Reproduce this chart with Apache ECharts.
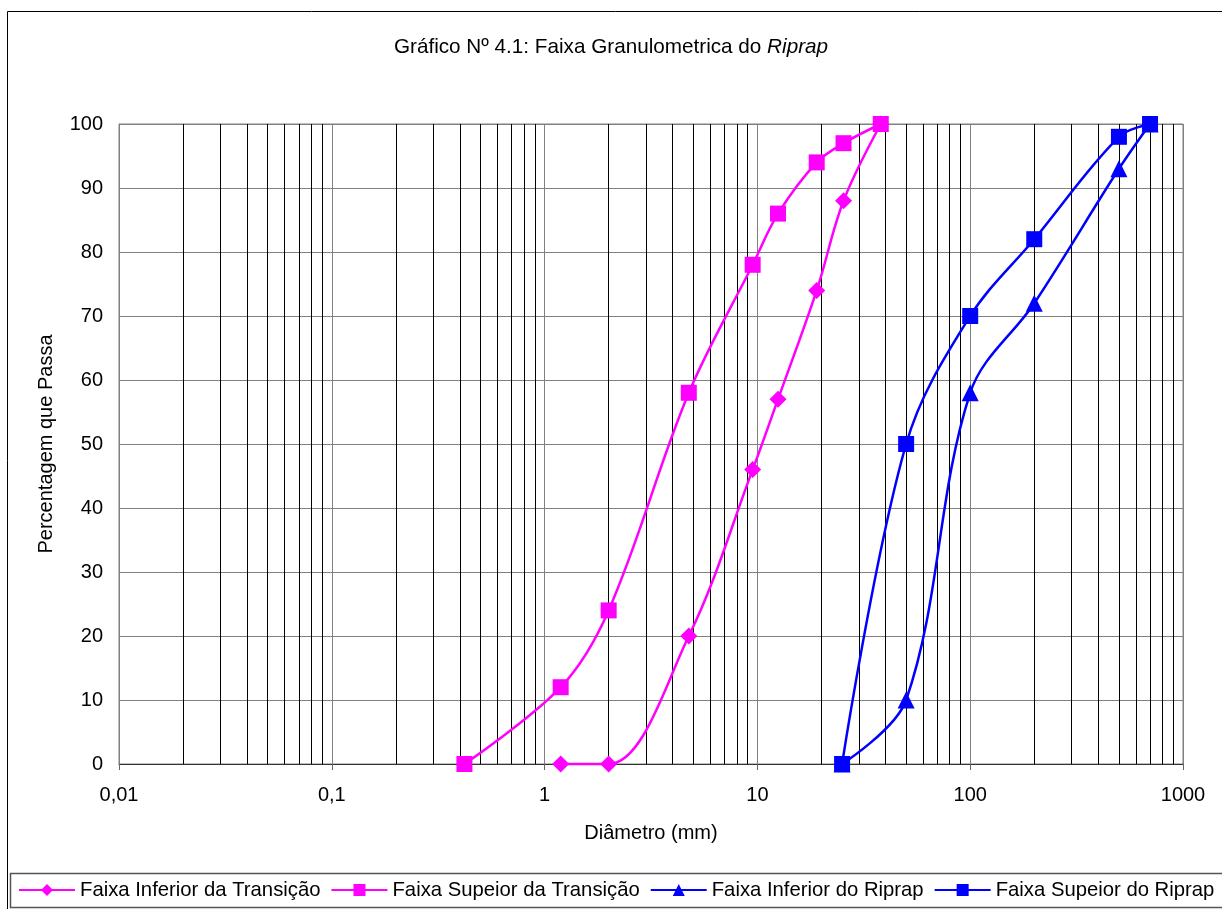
<!DOCTYPE html>
<html>
<head>
<meta charset="utf-8">
<script src="https://cdn.jsdelivr.net/npm/echarts@6/dist/echarts.min.js"></script>
<style>
  html, body { margin: 0; padding: 0; background: #fff; }
  #chart { width: 1222px; height: 909px; }
</style>
</head>
<body>
<div id="chart"></div>
<script>
// Sieve diameters (mm) and percentage passing for each band
const transInfDiam = [1.19, 2.0, 4.76, 9.5, 12.5, 19, 25.4, 38];
const transInfPass = [0, 0, 20, 46, 57, 74, 88, 100];

const transSupDiam = [0.42, 1.19, 2.0, 4.76, 9.5, 12.5, 19, 25.4, 38];
const transSupPass = [0, 12, 24, 58, 78, 86, 94, 97, 100];

const ripInfDiam = [25, 50, 100, 200, 500, 700];
const ripInfPass = [0, 10, 58, 72, 93, 100];

const ripSupDiam = [25, 50, 100, 200, 500, 700];
const ripSupPass = [0, 50, 70, 82, 98, 100];

const seriesNames = [
  'Faixa Inferior da Transição',
  'Faixa Supeior da Transição',
  'Faixa Inferior do Riprap',
  'Faixa Supeior do Riprap'
];

// Decade tick labels of the log axis (0.01 ... 1000)
const xTickLabels = ['0,01', '0,1', '1', '10', '100', '1000'];

// Intermediate log-paper lines (2..9 within each decade)
const minorMultipliers = [2, 3, 4, 5, 6, 7, 8, 9];
const minorDecades = [0.01, 0.1, 1, 10, 100];

const FONT = '"Liberation Sans", Arial, sans-serif';
const MAGENTA = '#FF00FF';
const BLUE = '#0000FF';

const pairs = (xs, ys) => xs.map((x, i) => [x, ys[i]]);

const minorLines = [];
minorDecades.forEach(d => minorMultipliers.forEach(m => {
  minorLines.push({ xAxis: +(d * m).toPrecision(3) });
}));

const lineSeries = (name, xs, ys, color, symbol, size) => ({
  name: name,
  type: 'line',
  data: pairs(xs, ys),
  smooth: 0.35,
  clip: false,
  symbol: symbol,
  symbolSize: size,
  color: color,
  lineStyle: { color: color, width: 2.5 },
  itemStyle: { color: color },
  z: 5
});

const chart = echarts.init(document.getElementById('chart'), null, { renderer: 'canvas' });

chart.setOption({
  animation: false,
  backgroundColor: '#fff',
  textStyle: { fontFamily: FONT },
  title: {
    text: '{a|Gráfico Nº 4.1: Faixa Granulometrica do }{b|Riprap}',
    left: 'center',
    top: 32,
    textStyle: {
      rich: {
        a: { fontFamily: FONT, fontSize: 20.7, fontWeight: 'normal', color: '#000' },
        b: { fontFamily: FONT, fontSize: 20.7, fontWeight: 'normal', color: '#000', fontStyle: 'italic' }
      }
    }
  },
  graphic: [
    {
      type: 'rect',
      shape: { x: 7.5, y: 11.5, width: 1300, height: 1000 },
      style: { fill: 'none', stroke: '#000', lineWidth: 1 },
      silent: true, z: -10
    },
    {
      type: 'rect',
      shape: { x: 10.5, y: 873.5, width: 1300, height: 34 },
      style: { fill: 'none', stroke: '#555', lineWidth: 1.5 },
      silent: true, z: -10
    }
  ],
  legend: {
    data: seriesNames,
    left: 18,
    top: 880,
    padding: 0,
    width: 1204,
    itemWidth: 56,
    itemHeight: 15,
    itemGap: 10,
    textStyle: { fontFamily: FONT, fontSize: 20.3, color: '#000' }
  },
  grid: {
    left: 119,
    top: 124,
    width: 1064,
    height: 640,
    show: true,
    borderColor: '#808080',
    borderWidth: 1,
    containLabel: false
  },
  xAxis: {
    type: 'log',
    logBase: 10,
    min: 0.01,
    max: 1000,
    name: 'Diâmetro (mm)',
    nameLocation: 'middle',
    nameGap: 59,
    nameTextStyle: { fontFamily: FONT, fontSize: 20, color: '#000' },
    axisLine: { onZero: false, lineStyle: { color: '#333', width: 1 } },
    axisTick: { show: true, inside: false, length: 6, lineStyle: { color: '#666' } },
    axisLabel: {
      margin: 21,
      fontFamily: FONT, fontSize: 20, color: '#000',
      formatter: v => {
        const i = Math.round(Math.log10(v)) + 2;
        return xTickLabels[i] !== undefined ? xTickLabels[i] : '';
      }
    },
    splitLine: { show: true, lineStyle: { color: '#808080', width: 1 } }
  },
  yAxis: {
    type: 'value',
    min: 0,
    max: 100,
    interval: 10,
    name: 'Percentagem que Passa',
    nameLocation: 'middle',
    nameGap: 63,
    nameRotate: 90,
    nameTextStyle: { fontFamily: FONT, fontSize: 20, color: '#000' },
    axisLine: { show: true, lineStyle: { color: '#808080' } },
    axisTick: { show: false },
    axisLabel: { margin: 16, fontFamily: FONT, fontSize: 20, color: '#000' },
    splitLine: { show: true, lineStyle: { color: '#808080', width: 1 } }
  },
  series: [
    {
      name: 'minor-grid',
      type: 'line',
      data: [],
      silent: true,
      z: 1,
      markLine: {
        silent: true,
        symbol: 'none',
        label: { show: false },
        animation: false,
        lineStyle: { color: '#000', width: 1, type: 'solid' },
        emphasis: { disabled: true },
        data: minorLines
      }
    },
    lineSeries(seriesNames[0], transInfDiam, transInfPass, MAGENTA, 'diamond', 17),
    lineSeries(seriesNames[1], transSupDiam, transSupPass, MAGENTA, 'rect', 16),
    lineSeries(seriesNames[2], ripInfDiam, ripInfPass, BLUE, 'triangle', 17),
    lineSeries(seriesNames[3], ripSupDiam, ripSupPass, BLUE, 'rect', 16)
  ]
});
</script>
</body>
</html>
